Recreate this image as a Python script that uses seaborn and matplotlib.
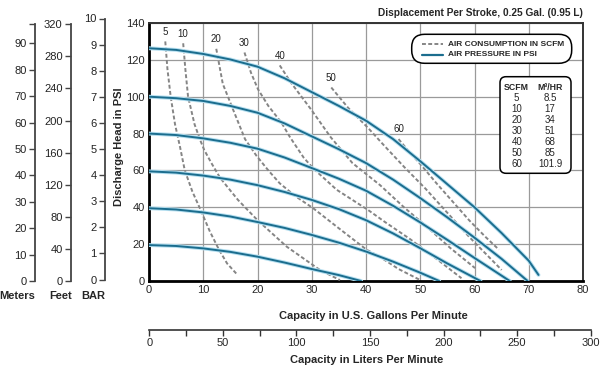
from matplotlib import pyplot as plt
from matplotlib.patches import FancyBboxPatch
from matplotlib.lines import Line2D
import matplotlib.patheffects as pe
import numpy as np
import pandas as pd
import seaborn as sns

# air pressure curves: discharge head (psi) vs capacity (gpm)
p126_gpm = [0, 5, 10, 15, 20, 25, 30, 35, 40, 45, 50, 55, 60, 65, 70, 71.8]
p126_psi = [126.3, 125.4, 123.2, 120.2, 116.3, 110, 102.5, 95, 87, 77, 65, 52.5, 40, 26, 11, 3.3]
p100_gpm = [0, 5, 10, 15, 20, 25, 30, 35, 40, 45, 50, 55, 60, 65, 69.8]
p100_psi = [100, 99.2, 97.7, 95, 91.3, 85.5, 78.5, 71.5, 64, 55, 45, 34.5, 23.5, 12, 0]
p80_gpm = [0, 5, 10, 15, 20, 25, 30, 35, 40, 45, 50, 55, 60, 66.5]
p80_psi = [80, 79.2, 77.4, 75, 71.8, 67, 61.3, 55.5, 49, 40.8, 31.8, 22.3, 12.5, 0]
p60_gpm = [0, 5, 10, 15, 20, 25, 30, 35, 40, 45, 50, 55, 61.1]
p60_psi = [59.5, 58.8, 57.2, 55, 52, 48.3, 44, 39, 33, 25.8, 17.8, 9.5, 0]
p40_gpm = [0, 5, 10, 15, 20, 25, 30, 35, 40, 45, 50, 53.5]
p40_psi = [39.5, 38.8, 37.2, 35, 32, 28.8, 25, 20.8, 16, 10.5, 4.5, 0]
p20_gpm = [0, 5, 10, 15, 20, 25, 30, 35, 39.1]
p20_psi = [19.5, 19, 17.7, 15.8, 13.2, 10, 6.5, 3.2, 0]

# air consumption curves (scfm)
s5_gpm = [3.0, 3.4, 4.0, 4.8, 5.7, 6.6, 8.0, 9.6, 11.2, 12.9, 14.4, 16.1]
s5_psi = [130, 115, 100, 85, 73, 60, 48.5, 38, 27, 17, 9.5, 4]
s10_gpm = [6.3, 6.7, 7.2, 8.4, 9.5, 10.2, 11.5, 13.1, 16.4, 20.0, 25.4, 31.5, 35.2]
s10_psi = [129, 115, 100, 85, 76, 71, 64, 56, 44, 33, 18.6, 6, 0.5]
s20_gpm = [12.4, 13.6, 15.5, 17.7, 19.8, 22.0, 24.1, 27.0, 30.3, 34.6, 40.1, 42.6, 46.0, 50.0]
s20_psi = [126, 107, 93, 77, 68, 60, 53, 46, 39.4, 29.5, 17, 13, 6.5, 0.5]
s30_gpm = [17.6, 18.8, 20.1, 22.0, 24.4, 26.0, 28.5, 30.3, 34.6, 40.4, 43.5, 48.0, 53.0, 57.6]
s30_psi = [124, 113, 104, 95, 86, 78, 67, 61, 49.5, 38.5, 32, 23, 12, 1.5]
s40_gpm = [24.1, 26.2, 29.9, 33.5, 37.5, 42.6, 47.0, 51.0, 55.5, 60.1]
s40_psi = [117, 107.5, 93, 78, 64, 52, 40, 30, 18, 7]
s50_gpm = [33.6, 36.7, 40.4, 43.5, 47.0, 51.0, 55.0, 59.0, 62.0, 65.0]
s50_psi = [105, 94, 83, 73, 62, 50, 37, 24, 15, 6]
s60_gpm = [46.0, 48.0, 50.0, 53.0, 56.0, 59.0, 62.0, 64.5]
s60_psi = [77, 70, 63.5, 53, 43, 33, 24, 17]

scfm_vals = ['5', '10', '20', '30', '40', '50', '60']
m3hr_vals = ['8.5', '17', '34', '51', '68', '85', '101.9']

pressure = [(p126_gpm, p126_psi), (p100_gpm, p100_psi), (p80_gpm, p80_psi),
            (p60_gpm, p60_psi), (p40_gpm, p40_psi), (p20_gpm, p20_psi)]
air = [(s5_gpm, s5_psi), (s10_gpm, s10_psi), (s20_gpm, s20_psi), (s30_gpm, s30_psi),
       (s40_gpm, s40_psi), (s50_gpm, s50_psi), (s60_gpm, s60_psi)]

sns.set_style('white')
plt.rcParams['font.family'] = ['Liberation Sans Narrow', 'Liberation Sans', 'DejaVu Sans']

W, H = 600, 369
BLUE = '#1b6d8e'
GREY = '#858585'
DASH = (0, (2.0, 1.2))


def box(x0, y0, x1, y1):
    # pixel box (top-left origin) -> figure fraction rect
    return [x0 / W, 1 - y1 / H, (x1 - x0) / W, (y1 - y0) / H]


fig = plt.figure(figsize=(6, 3.69), dpi=100)
ax = fig.add_axes(box(149, 23, 583, 281))

glow = [pe.Stroke(linewidth=2.8, foreground='#b5dff0'), pe.Normal()]
for gx, gy in pressure:
    sns.lineplot(x=gx, y=gy, ax=ax, color=BLUE, lw=1.4, sort=False,
                 estimator=None, path_effects=glow, zorder=4,
                 solid_joinstyle='round')

for lab, (gx, gy) in zip(scfm_vals, air):
    sns.lineplot(x=gx, y=gy, ax=ax, color=GREY, lw=1.4, sort=False,
                 estimator=None, linestyle=DASH, zorder=3)
    ax.annotate(lab, xy=(gx[0], gy[0]), xytext=(0, 7), textcoords='offset points',
                ha='center', va='center', fontsize=7, color='#222222')

ax.set_xlim(0, 80)
ax.set_ylim(0, 140)
ax.set_xticks(range(0, 81, 10))
ax.set_yticks(range(0, 141, 20))
ax.grid(True, color='#9a9a9a', lw=0.9)
ax.tick_params(length=0, labelsize=8, pad=3)
for s in ['top', 'right']:
    ax.spines[s].set_color('#333333')
    ax.spines[s].set_linewidth(1.4)
for s in ['left', 'bottom']:
    ax.spines[s].set_color('black')
    ax.spines[s].set_linewidth(2)
ax.set_xlabel('Capacity in U.S. Gallons Per Minute', fontsize=8, weight='bold')
ax.set_ylabel('Discharge Head in PSI', fontsize=8, weight='bold')
ax.xaxis.set_label_coords(0.516, -0.115)
ax.yaxis.set_label_coords(-0.058, 0.52)

# liters per minute scale
ax2 = fig.add_axes(box(149.3, 320, 590.7, 330))
ax2.set_xlim(0, 300)
ax2.set_xticks(range(0, 301, 50))
ax2.set_xticks(range(25, 300, 50), minor=True)
ax2.set_yticks([])
for s in ['top', 'left', 'right']:
    ax2.spines[s].set_visible(False)
ax2.spines['bottom'].set_color('#333333')
ax2.spines['bottom'].set_linewidth(1.2)
ax2.tick_params(axis='x', which='both', bottom=True, direction='out', length=4,
                width=1, color='#333333', labelsize=8, pad=2)
ax2.patch.set_alpha(0)
fig.text(367 / W, 1 - 360 / H, 'Capacity in Liters Per Minute', ha='center',
         va='center', fontsize=8, weight='bold')

# side scales: meters, feet, bar
side = [('Meters', 35, 24.3, 281, 97.2, range(0, 91, 10), 17.5),
        ('Feet', 71, 24.3, 281, 320, range(0, 321, 40), 61),
        ('BAR', 105, 18.5, 279.5, 10, range(0, 11, 1), 93)]
for name, xs, top, bot, ymax, ticks, lx in side:
    sa = fig.add_axes(box(xs, top, xs + 10, bot))
    sa.set_ylim(0, ymax)
    sa.set_yticks(list(ticks))
    sa.set_yticks([ymax], minor=True)
    sa.set_xticks([])
    for s in ['top', 'bottom', 'right']:
        sa.spines[s].set_visible(False)
    sa.spines['left'].set_color('#444444')
    sa.spines['left'].set_linewidth(1.3)
    sa.tick_params(axis='y', which='both', left=True, direction='out', length=4,
                   width=1, color='#444444', labelsize=8, pad=2,
                   labelcolor='#222222')
    sa.patch.set_alpha(0)
    fig.text(lx / W, 1 - 296 / H, name, ha='center', va='center',
             fontsize=8, weight='bold')

fig.text(583 / W, 1 - 13 / H, 'Displacement Per Stroke, 0.25 Gal. (0.95 L)',
         ha='right', va='center', fontsize=7.3, weight='bold')

# legend
leg = FancyBboxPatch((411.7 / 100, (H - 63.3) / 100), 1.60, 0.29,
                     boxstyle='round,pad=0,rounding_size=0.13',
                     transform=fig.dpi_scale_trans, fc='white', ec='black', lw=1.1)
fig.add_artist(leg)
fig.add_artist(Line2D([421.7 / W, 443.3 / W], [1 - 44 / H] * 2, transform=fig.transFigure,
                      color=GREY, lw=1.4, linestyle=DASH))
fig.add_artist(Line2D([421.7 / W, 443.3 / W], [1 - 55 / H] * 2, transform=fig.transFigure,
                      color=BLUE, lw=1.6))
fig.text(448 / W, 1 - 44 / H, 'AIR CONSUMPTION IN SCFM', ha='left', va='center',
         fontsize=6, weight='bold')
fig.text(448 / W, 1 - 55 / H, 'AIR PRESSURE IN PSI', ha='left', va='center',
         fontsize=6, weight='bold')

# conversion table
tab = FancyBboxPatch((500 / 100, (H - 173.3) / 100), 0.71, 0.966,
                     boxstyle='round,pad=0,rounding_size=0.06',
                     transform=fig.dpi_scale_trans, fc='white', ec='black', lw=1.1)
fig.add_artist(tab)
fig.text(516.7 / W, 1 - 87.3 / H, 'SCFM', ha='center', va='center', fontsize=6.3,
         weight='bold')
fig.text(550 / W, 1 - 87.3 / H, 'M³/HR', ha='center', va='center', fontsize=6.3,
         weight='bold')
for i, (a, b) in enumerate(zip(scfm_vals, m3hr_vals)):
    yy = 1 - (98.3 + i * 11) / H
    fig.text(516.7 / W, yy, a, ha='center', va='center', fontsize=7)
    fig.text(550 / W, yy, b, ha='center', va='center', fontsize=7)

fig.savefig('out.png', dpi=100)
